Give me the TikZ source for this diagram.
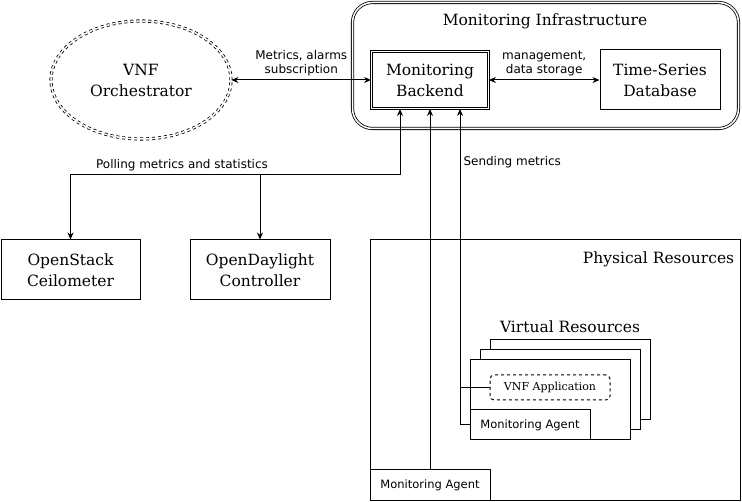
\documentclass[tikz,border=0pt]{standalone}
\usepackage{fontspec}
\setmainfont{DejaVu Serif}
\setsansfont{DejaVu Sans}
\usetikzlibrary{shapes.geometric,arrows.meta,calc}
\begin{document}
\begin{tikzpicture}[x=1pt,y=-1pt,
  line width=1pt,
  boxfont/.style={font=\fontsize{15.5}{21}\selectfont, align=center},
  lblfont/.style={font=\sffamily\fontsize{12}{14}\selectfont, align=center, inner sep=0pt},
  arr/.style={-{Stealth[length=7pt,width=6pt]}},
  barr/.style={{Stealth[length=7pt,width=6pt]}-{Stealth[length=7pt,width=6pt]}},
]
\useasboundingbox (0,0) rectangle (742,502);

% Monitoring infrastructure container
\node[draw, double, double distance=1.5pt, line width=0.8pt, rounded corners=20pt, minimum width=386pt, minimum height=126pt, inner sep=0pt] (infra) at (545.5,65.5) {};
\node[boxfont, anchor=center] (infratitle) at (545,21) {Monitoring Infrastructure};

% Orchestrator
\node[draw, dashed, double, double distance=1.5pt, line width=0.8pt, ellipse, minimum width=180pt, minimum height=118pt, boxfont] (orch) at (141,80) {VNF\\Orchestrator};

% Backend & TSDB
\node[draw, double, double distance=1.5pt, line width=0.8pt, minimum width=117pt, minimum height=57pt, inner sep=0pt, boxfont] (backend) at (430,80) {Monitoring\\Backend};
\node[draw, minimum width=120pt, minimum height=60pt, inner sep=0pt, boxfont] (tsdb) at (660,80) {Time-Series\\Database};

% OpenStack / OpenDaylight
\node[draw, minimum width=139pt, minimum height=60pt, inner sep=0pt, boxfont] (ceil) at (70.5,270) {OpenStack\\Ceilometer};
\node[draw, minimum width=140pt, minimum height=60pt, inner sep=0pt, boxfont] (odl) at (260,270) {OpenDaylight\\Controller};

% Physical resources
\node[draw, minimum width=370pt, minimum height=260pt, inner sep=0pt] (phys) at (555,370) {};
\node[boxfont, anchor=east] (phystitle) at (738,259) {Physical Resources};
\node[draw, minimum width=120pt, minimum height=30pt, inner sep=0pt, font=\sffamily\fontsize{11.5}{14}\selectfont] (agent1) at (430,485) {Monitoring Agent};

% Virtual resources
\node[boxfont] (vrtitle) at (570,327) {Virtual Resources};
\node[draw, fill=white, minimum width=160pt, minimum height=80pt, inner sep=0pt] (vr3) at (570,380) {};
\node[draw, fill=white, minimum width=160pt, minimum height=80pt, inner sep=0pt] (vr2) at (560,390) {};
\node[draw, fill=white, minimum width=160pt, minimum height=80pt, inner sep=0pt] (vr1) at (550,400) {};
\node[draw, dashed, rounded corners=4pt, minimum width=120pt, minimum height=25pt, inner sep=0pt, font=\fontsize{11}{13}\selectfont] (vnfapp) at (550,387.5) {VNF Application};
\node[draw, minimum width=120pt, minimum height=30pt, inner sep=0pt, font=\sffamily\fontsize{11.5}{14}\selectfont] (agent2) at (530,425) {Monitoring Agent};

% Orchestrator <-> Backend
\draw[barr] (orch) -- (backend) node[lblfont, midway, above=3pt] (lbl1) {Metrics, alarms\\subscription};
% Backend <-> TSDB
\draw[barr] (backend) -- (tsdb) node[lblfont, midway, above=3pt] (lbl2) {management,\\data storage};

% Polling
\coordinate (b1) at ($(backend.south)+(-30,0)$);
\coordinate (pj) at (400,175);
\draw[arr] (pj) -- (b1);
\draw[arr] (pj) -| (ceil.north);
\draw[arr] (pj) -| (odl.north);
\node[lblfont] (polllbl) at (182,165) {Polling metrics and statistics};

% Sending metrics
\coordinate (b2) at (backend.south);
\coordinate (b3) at ($(backend.south)+(30,0)$);
\draw[arr] (agent1.north) -- (b2);
\coordinate (aj) at (460,425);
\coordinate (vj) at (460,387.5);
\draw[arr] (aj) -- (b3);
\draw (aj) -- (agent2.west);
\draw (vj) -- (vnfapp.west);
\node[lblfont, anchor=west] (sendlbl) at (463,162) {Sending metrics};
\end{tikzpicture}
\end{document}
